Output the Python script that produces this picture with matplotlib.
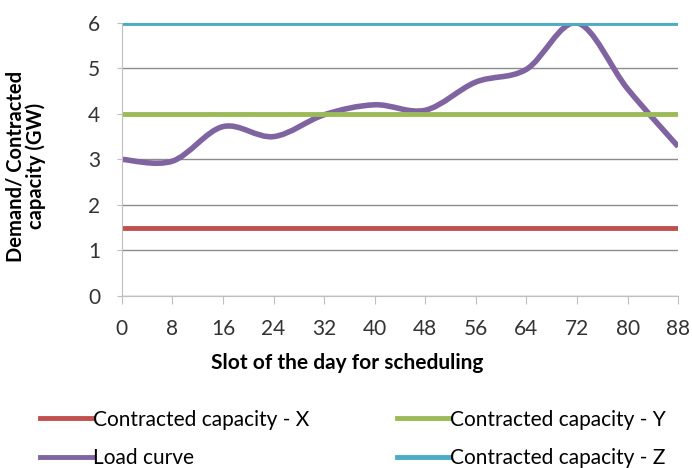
import numpy as np
import matplotlib.pyplot as plt
from matplotlib.path import Path
from matplotlib.patches import PathPatch
from matplotlib.lines import Line2D

# load curve, read every 8 slots
slots = [0, 8, 16, 24, 32, 40, 48, 56, 64, 72, 80, 88]
load = [3.0, 2.96, 3.72, 3.5, 3.98, 4.2, 4.08, 4.7, 4.98, 6.0, 4.55, 3.28]
cap_x = 1.5
cap_y = 4.0
cap_z = 6.0

red = '#C0504D'
green = '#9BBB59'
cyan = '#4BACC6'
purple = '#8064A2'
plt.rcParams['font.family'] = ['Lato', 'DejaVu Sans']

fig = plt.figure(figsize=(6.92, 4.68), dpi=100)
ax = fig.add_axes([0.176, 0.368, 0.804, 0.583])

ax.plot([slots[0], slots[-1]], [cap_x, cap_x], color=red, lw=3.5, solid_capstyle='butt')
ax.plot([slots[0], slots[-1]], [cap_y, cap_y], color=green, lw=3.5, solid_capstyle='butt')
ax.plot([slots[0], slots[-1]], [cap_z, cap_z], color=cyan, lw=3.5, solid_capstyle='butt')

# smoothed line like excel: bezier segments with catmull-rom style controls
x = np.array(slots, float)
y = np.array(load, float)
verts = [(x[0], y[0])]
codes = [Path.MOVETO]
for i in range(len(x) - 1):
    p0 = np.array([x[max(i - 1, 0)], y[max(i - 1, 0)]])
    p1 = np.array([x[i], y[i]])
    p2 = np.array([x[i + 1], y[i + 1]])
    p3 = np.array([x[min(i + 2, len(x) - 1)], y[min(i + 2, len(x) - 1)]])
    c1 = p1 + (p2 - p0) / 6
    c2 = p2 - (p3 - p1) / 6
    verts += [tuple(c1), tuple(c2), tuple(p2)]
    codes += [Path.CURVE4] * 3
ax.add_patch(PathPatch(Path(verts, codes), facecolor='none', edgecolor=purple,
                       lw=4, capstyle='butt'))

ax.set_xlim(0, 88)
ax.set_ylim(0, 6)
ax.set_xticks(slots)
ax.set_yticks(range(7))
ax.grid(axis='y', color='#8c8c8c', lw=1)
ax.set_axisbelow(True)
for s in ['top', 'right']:
    ax.spines[s].set_visible(False)
for s in ['left', 'bottom']:
    ax.spines[s].set_color('#bfbfbf')
ax.tick_params(axis='both', colors='#bfbfbf', labelcolor='#333333', labelsize=15)
ax.tick_params(axis='y', length=3.5, pad=12)
ax.tick_params(axis='x', length=5.5, pad=11)

ax.set_xlabel('Slot of the day for scheduling', fontsize=15, fontweight='bold')
ax.xaxis.set_label_coords(347 / 692 / 0.804 - 0.176 / 0.804, -0.21)
fig.text(0.037, 0.645, 'Demand/ Contracted\ncapacity (GW)', rotation=90, fontsize=14.5,
         fontweight='bold', ha='center', va='center', linespacing=0.97)

handles = [Line2D([], [], color=red, lw=3.5),
           Line2D([], [], color=purple, lw=3.5),
           Line2D([], [], color=green, lw=3.5),
           Line2D([], [], color=cyan, lw=3.5)]
labels = ['Contracted capacity - X', 'Load curve',
          'Contracted capacity - Y', 'Contracted capacity - Z']
fig.legend(handles, labels, ncol=2, loc='upper left', bbox_to_anchor=(0.058, 0.125),
           frameon=False, fontsize=15, handlelength=2.55,
           handletextpad=0.0, columnspacing=4.2, labelspacing=0.88, borderaxespad=0,
           borderpad=0)

fig.savefig('out.png', dpi=100)
